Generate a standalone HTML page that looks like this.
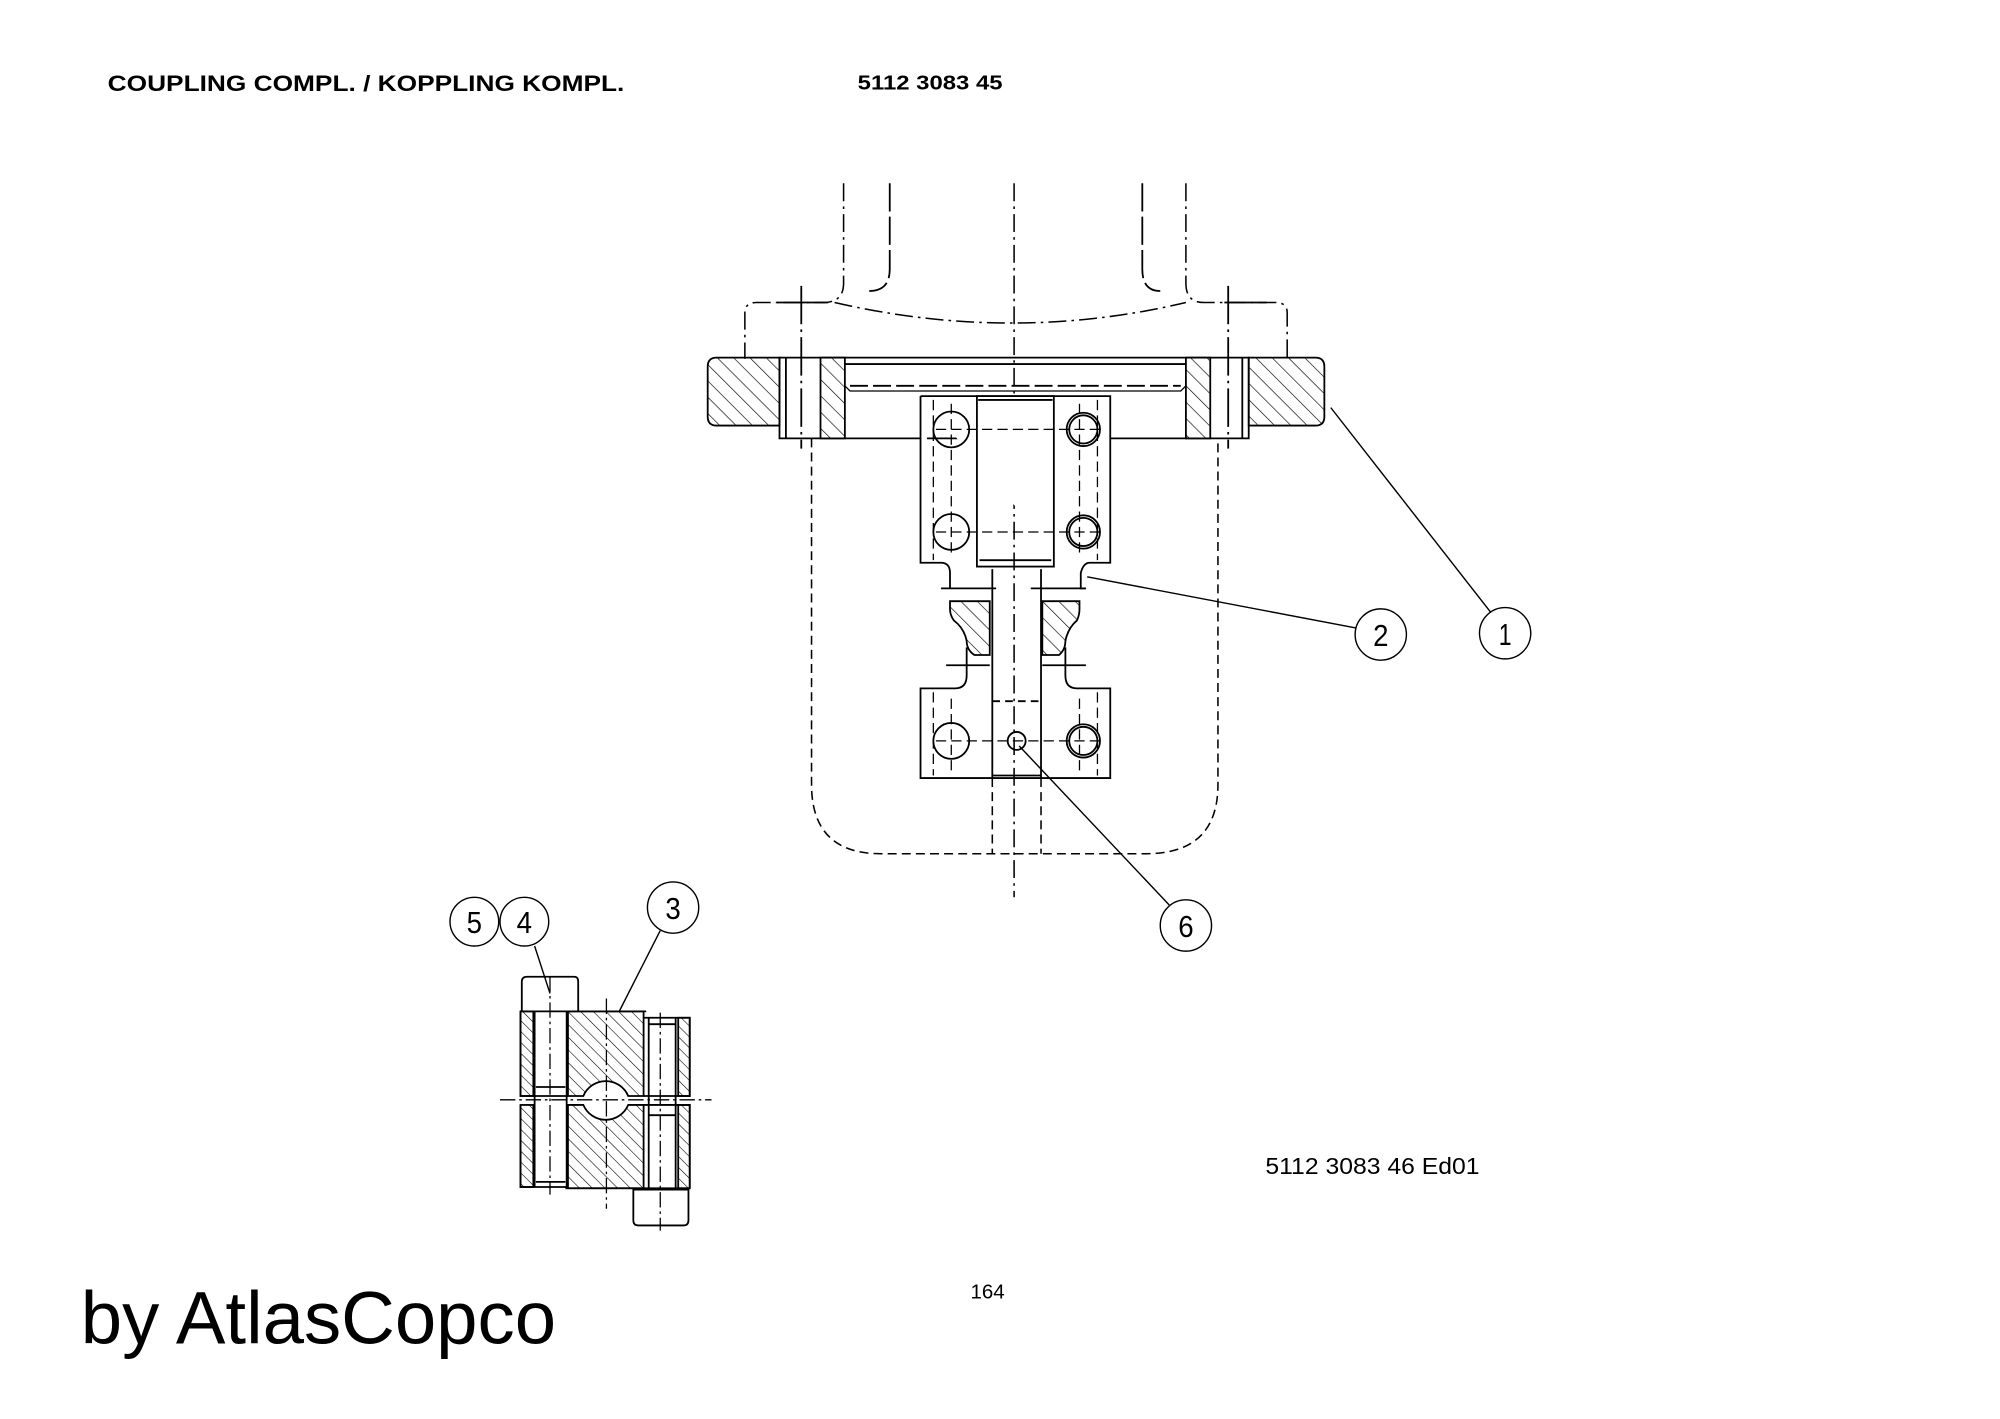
<!DOCTYPE html>
<html><head><meta charset="utf-8"><style>
html,body{margin:0;padding:0;background:#fff;}
svg{display:block;}
</style></head><body>
<svg width="2000" height="1419" viewBox="0 0 1560 1107" preserveAspectRatio="none" xmlns="http://www.w3.org/2000/svg">
<defs>
<pattern id="h1" patternUnits="userSpaceOnUse" width="9" height="9" patternTransform="rotate(-45)">
<line x1="0" y1="0" x2="0" y2="9" stroke="#000" stroke-width="1"/></pattern>
<pattern id="h2" patternUnits="userSpaceOnUse" width="7" height="7" patternTransform="rotate(-45)">
<line x1="0" y1="0" x2="0" y2="7" stroke="#000" stroke-width="0.9"/></pattern>
<pattern id="h3" patternUnits="userSpaceOnUse" width="6" height="6" patternTransform="rotate(-45)">
<line x1="0" y1="0" x2="0" y2="6" stroke="#000" stroke-width="0.9"/></pattern>
</defs>
<rect width="1560" height="1107" fill="#fff"/>
<g font-family="Liberation Sans, Arial, sans-serif" fill="#000">
<text x="84" y="71" font-size="17" font-weight="bold" textLength="403" lengthAdjust="spacingAndGlyphs">COUPLING COMPL. / KOPPLING KOMPL.</text>
<text x="669" y="70" font-size="16" font-weight="bold" textLength="113" lengthAdjust="spacingAndGlyphs">5112 3083 45</text>
<text x="987" y="916" font-size="18" textLength="167" lengthAdjust="spacingAndGlyphs">5112 3083 46  Ed01</text>
<text x="757" y="1013" font-size="16">164</text>
<text x="63" y="1048" font-size="58">by AtlasCopco</text>
<g font-size="24" text-anchor="middle">
<text x="1174" y="503" textLength="10" lengthAdjust="spacingAndGlyphs">1</text>
<text x="1077" y="504" textLength="12" lengthAdjust="spacingAndGlyphs">2</text>
<text x="925" y="731" textLength="12" lengthAdjust="spacingAndGlyphs">6</text>
<text x="370" y="728" textLength="12" lengthAdjust="spacingAndGlyphs">5</text>
<text x="409" y="728" textLength="12" lengthAdjust="spacingAndGlyphs">4</text>
<text x="525" y="717" textLength="12" lengthAdjust="spacingAndGlyphs">3</text>
</g>
</g>
<g fill="none" stroke="#000" stroke-width="1.4">
<g stroke-dasharray="14 4 2 4" stroke-width="1.2">
<path d="M658 143 V221 Q658 236 642 236 H590 Q581 236 581 244 V280"/>
<path d="M925 143 V221 Q925 236 939 236 H995 Q1004 236 1004 244 V280"/>
<path d="M651 236 Q790 268 925 236"/>
<line x1="791" y1="143" x2="791" y2="700"/>
</g>
<path d="M694 143 V210 Q694 227 678 227" stroke-dasharray="22 4"/>
<path d="M891 143 V210 Q891 227 905 227" stroke-dasharray="22 4"/>
<line x1="625" y1="223" x2="625" y2="350" stroke-dasharray="30 4 2 4"/>
<line x1="606" y1="236" x2="646" y2="236"/>
<line x1="958" y1="223" x2="958" y2="350" stroke-dasharray="30 4 2 4"/>
<line x1="955" y1="236" x2="988" y2="236"/>
<path d="M608 279 H559 Q552 279 552 286 V325 Q552 332 559 332 H608 Z" fill="url(#h1)"/>
<path d="M974 279 H1026 Q1033 279 1033 286 V325 Q1033 332 1026 332 H974 Z" fill="url(#h1)"/>
<rect x="640" y="279" width="19" height="63" fill="url(#h1)"/>
<rect x="925" y="279" width="19" height="63" fill="url(#h1)"/>
<path d="M608 279 H974 V342 H608 Z"/>
<line x1="613" y1="279" x2="613" y2="342"/>
<line x1="969" y1="279" x2="969" y2="342"/>
<line x1="659" y1="284" x2="925" y2="284"/>
<path d="M659 301 L663 305 H921 L925 301" stroke-width="1"/>
<line x1="663" y1="301" x2="921" y2="301" stroke-dasharray="14 4"/>
<path d="M633 342 V612 Q633 666 687 666 H894 Q950 666 950 612 V342" stroke-dasharray="7 4" stroke-width="1.2"/>
<path d="M718 309 H866 V439 H850 Q845 439 843 447 V459 H847 M718 309 V439 H734 Q741 439 741 447 V459" fill="#fff"/>
<rect x="762" y="309" width="60" height="133"/>
<line x1="763" y1="312" x2="821" y2="312"/>
<line x1="764" y1="437" x2="820" y2="437"/>
<path d="M741 469 H772 V511 H760 Q754 507 754 500 Q752 490 744 484 Q741 480 741 475 Z" fill="url(#h1)"/>
<path d="M842 469 H813 V511 H826 Q831 507 831 500 Q833 490 840 484 Q842 480 842 475 Z" fill="url(#h1)"/>
<line x1="734" y1="459" x2="777" y2="459"/><line x1="804" y1="459" x2="847" y2="459"/>
<line x1="738" y1="519" x2="772" y2="519"/><line x1="813" y1="519" x2="847" y2="519"/>
<path d="M754 505 V527 Q754 537 745 537 H718 V607 H866 V537 H840 Q831 537 831 527 V505"/>
<line x1="774" y1="444" x2="774" y2="607"/><line x1="812" y1="444" x2="812" y2="607"/>
<line x1="774" y1="547" x2="812" y2="547" stroke-dasharray="6 4"/>
<line x1="774" y1="605" x2="812" y2="605"/>
<path d="M774 607 V666 M812 607 V666" stroke-dasharray="7 4" stroke-width="1.2"/>
<g stroke-dasharray="8 4" stroke-width="1">
<line x1="728" y1="312" x2="728" y2="437"/><line x1="856" y1="312" x2="856" y2="437"/>
<line x1="728" y1="540" x2="728" y2="605"/><line x1="856" y1="540" x2="856" y2="605"/>
<line x1="742" y1="315" x2="742" y2="432"/><line x1="842" y1="315" x2="842" y2="432"/>
<line x1="742" y1="545" x2="742" y2="605"/><line x1="842" y1="545" x2="842" y2="605"/>
<line x1="730" y1="335" x2="860" y2="335"/><line x1="730" y1="415" x2="860" y2="415"/><line x1="730" y1="578" x2="860" y2="578"/>
</g>
<circle cx="742" cy="335" r="14"/><circle cx="845" cy="335" r="13"/><circle cx="845" cy="335" r="11"/>
<circle cx="742" cy="415" r="14"/><circle cx="845" cy="415" r="13"/><circle cx="845" cy="415" r="11"/>
<circle cx="742" cy="578" r="14"/><circle cx="845" cy="578" r="13"/><circle cx="845" cy="578" r="11"/>
<circle cx="793" cy="578" r="7"/>
<g stroke-width="1.1">
<line x1="1038" y1="318" x2="1163" y2="478"/>
<line x1="848" y1="450" x2="1058" y2="490"/>
<line x1="795" y1="582" x2="912" y2="706"/>
<line x1="429" y1="775" x2="417" y2="738"/>
<line x1="483" y1="789" x2="515" y2="726"/>
<circle cx="1174" cy="494" r="20"/><circle cx="1077" cy="495" r="20"/><circle cx="925" cy="722" r="20"/>
<circle cx="370" cy="719" r="19"/><circle cx="409" cy="719" r="19"/><circle cx="525" cy="708" r="20"/>
</g>
<path d="M407 789 V766 Q407 762 411 762 H448 Q451 762 451 766 V789"/>
<path d="M494 928 H537 V952 Q537 956 533 956 H498 Q494 956 494 952 Z"/>
<rect x="406" y="789" width="10" height="66" fill="url(#h3)"/>
<rect x="406" y="862" width="10" height="64" fill="url(#h3)"/>
<rect x="529" y="794" width="9" height="61" fill="url(#h3)"/>
<rect x="529" y="862" width="9" height="65" fill="url(#h3)"/>
<path d="M443 789 H502 V855 H490 A19 19 0 0 0 455 855 H443 Z" fill="url(#h2)"/>
<path d="M443 862 H455 A19 19 0 0 0 490 862 H502 V927 H443 Z" fill="url(#h2)"/>
<path d="M406 789 H504 M406 789 V855 H443 M406 862 V926 H443 M441 927 H538 M502 794 H538 V855 H502 M502 862 H538 V927"/>
<line x1="417" y1="789" x2="417" y2="926"/><line x1="442" y1="789" x2="442" y2="926"/>
<line x1="418" y1="848" x2="441" y2="848"/><line x1="418" y1="922" x2="441" y2="922"/>
<line x1="506" y1="794" x2="506" y2="927"/><line x1="527" y1="794" x2="527" y2="927"/>
<line x1="506" y1="799" x2="527" y2="799"/><line x1="506" y1="870" x2="527" y2="870"/>
<g stroke-width="1" stroke-dasharray="12 3 2 3">
<line x1="390" y1="858" x2="555" y2="858"/>
<line x1="473" y1="779" x2="473" y2="943"/>
<line x1="429" y1="762" x2="429" y2="932"/>
<line x1="515" y1="790" x2="515" y2="960"/>
</g>
</g>
</svg>
</body></html>
